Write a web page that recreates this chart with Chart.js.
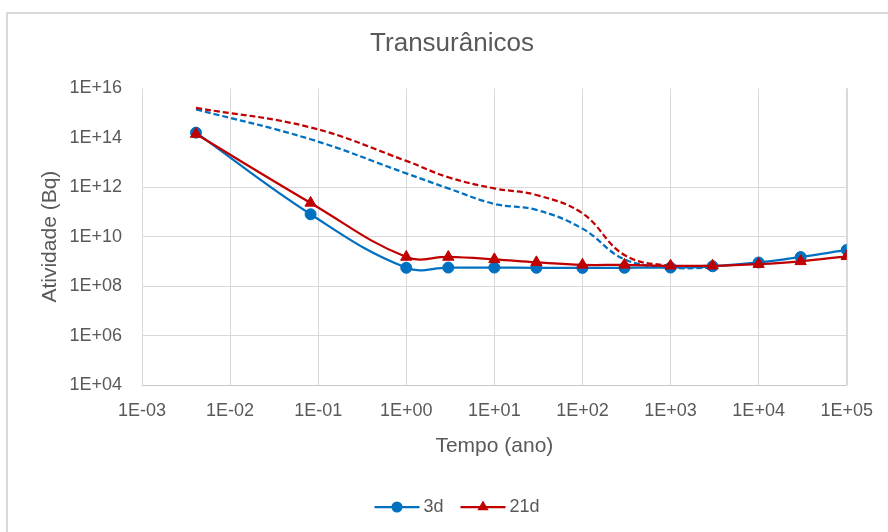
<!DOCTYPE html>
<html>
<head>
<meta charset="utf-8">
<script src="https://cdn.jsdelivr.net/npm/chart.js@4.4.1/dist/chart.umd.min.js"></script>
<style>
  html, body { margin: 0; padding: 0; background: #ffffff; }
  canvas { display: block; }
</style>
</head>
<body>
<canvas id="grafico" width="888" height="532"></canvas>
<script>
// Tempo de decaimento (anos)
const tempo = [0.0041, 0.082, 1, 3, 10, 30, 100, 300, 1000, 3000, 10000, 30000, 100000];

// Atividade dos transurânicos (Bq) - séries com marcadores
const atividade3d  = [1.6e14, 8.0e10, 5.5e8, 5.6e8, 5.6e8, 5.5e8, 5.4e8, 5.5e8, 5.6e8, 6.3e8, 9.0e8, 1.5e9, 2.9e9];
const atividade21d = [1.4e14, 2.3e11, 1.5e9, 1.5e9, 1.2e9, 9.1e8, 7.2e8, 7.2e8, 6.6e8, 6.6e8, 7.7e8, 1.0e9, 1.6e9];

// Curvas tracejadas (sem marcadores, fora da legenda)
const tempoTracejado = [0.0041, 0.082, 1, 3, 10, 30, 100, 300, 1000, 3000];
const tracejado3d  = [1.4e15, 8.6e13, 3.6e12, 8.9e11, 2.1e11, 1.2e11, 2.1e10, 1.2e9, 5.6e8, 5.5e8];
const tracejado21d = [1.6e15, 2.6e14, 1.15e13, 2.5e12, 8.9e11, 4.8e11, 8.7e10, 1.8e9, 6.6e8, 6.6e8];

// Marcas dos eixos
const xTicks = [1e-3, 1e-2, 1e-1, 1e0, 1e1, 1e2, 1e3, 1e4, 1e5];
const xTickLabels = ['1E-03', '1E-02', '1E-01', '1E+00', '1E+01', '1E+02', '1E+03', '1E+04', '1E+05'];
const yTicks = [1e4, 1e6, 1e8, 1e10, 1e12, 1e14, 1e16];
const yTickLabels = ['1E+04', '1E+06', '1E+08', '1E+10', '1E+12', '1E+14', '1E+16'];

const AZUL = '#0070C0';
const VERMELHO = '#C00000';
const CINZA_TEXTO = '#595959';
const CINZA_GRADE = '#d9d9d9';
const FONTE = "'Liberation Sans', Arial, sans-serif";

const pontos = (xs, ys) => xs.map((x, i) => ({ x: x, y: ys[i] }));

const itensLegenda = [
  { texto: '3d', cor: AZUL, estilo: 'circle' },
  { texto: '21d', cor: VERMELHO, estilo: 'triangle' }
];

function desenharMarcador(ctx, estilo, cor, x, y) {
  ctx.save();
  ctx.fillStyle = cor;
  ctx.strokeStyle = cor;
  ctx.beginPath();
  if (estilo === 'circle') {
    ctx.arc(x, y, 5.5, 0, Math.PI * 2);
  } else {
    const r = 6.5;
    ctx.moveTo(x, y - r);
    ctx.lineTo(x + r * Math.cos(Math.PI / 6), y + r / 2);
    ctx.lineTo(x - r * Math.cos(Math.PI / 6), y + r / 2);
    ctx.closePath();
  }
  ctx.fill();
  ctx.restore();
}

// Fundo branco e moldura da área do gráfico
const moldura = {
  id: 'moldura',
  beforeDraw(chart) {
    const ctx = chart.ctx;
    ctx.save();
    ctx.fillStyle = '#ffffff';
    ctx.fillRect(0, 0, chart.width, chart.height);
    ctx.strokeStyle = CINZA_GRADE;
    ctx.lineWidth = 2;
    ctx.strokeRect(7, 13, chart.width + 20, chart.height + 20);
    ctx.restore();
  }
};

// Legenda inferior com linha + marcador
const legendaLinha = {
  id: 'legendaLinha',
  afterDraw(chart) {
    const ctx = chart.ctx;
    ctx.save();
    ctx.font = '18px ' + FONTE;
    const larguraLinha = 45, folgaTexto = 4, folgaItens = 17;
    const larguras = itensLegenda.map(it => ctx.measureText(it.texto).width);
    let total = 0;
    larguras.forEach((w, i) => { total += larguraLinha + folgaTexto + w + (i > 0 ? folgaItens : 0); });
    let x = 457 - total / 2;
    const y = 507;
    itensLegenda.forEach((it, i) => {
      ctx.strokeStyle = it.cor;
      ctx.lineWidth = 2.25;
      ctx.beginPath();
      ctx.moveTo(x, y);
      ctx.lineTo(x + larguraLinha, y);
      ctx.stroke();
      desenharMarcador(ctx, it.estilo, it.cor, x + larguraLinha / 2, y);
      ctx.fillStyle = CINZA_TEXTO;
      ctx.textBaseline = 'middle';
      ctx.textAlign = 'left';
      ctx.fillText(it.texto, x + larguraLinha + folgaTexto, y);
      x += larguraLinha + folgaTexto + larguras[i] + folgaItens;
    });
    ctx.restore();
  }
};

new Chart(document.getElementById('grafico'), {
  type: 'line',
  data: {
    datasets: [
      {
        label: '3d',
        data: pontos(tempo, atividade3d),
        borderColor: AZUL,
        backgroundColor: AZUL,
        borderWidth: 2.25,
        pointStyle: 'circle',
        pointRadius: 5.5,
        pointBorderWidth: 1,
        tension: 0.4,
        order: 1
      },
      {
        label: '21d',
        data: pontos(tempo, atividade21d),
        borderColor: VERMELHO,
        backgroundColor: VERMELHO,
        borderWidth: 2.25,
        pointStyle: 'triangle',
        pointRadius: 6.5,
        pointBorderWidth: 1,
        tension: 0.4,
        order: 0
      },
      {
        label: '3d tracejado',
        data: pontos(tempoTracejado, tracejado3d),
        borderColor: AZUL,
        borderWidth: 2.25,
        borderDash: [6, 3],
        pointRadius: 0,
        tension: 0.4,
        order: 3
      },
      {
        label: '21d tracejado',
        data: pontos(tempoTracejado, tracejado21d),
        borderColor: VERMELHO,
        borderWidth: 2.25,
        borderDash: [6, 3],
        pointRadius: 0,
        tension: 0.4,
        order: 2
      }
    ]
  },
  options: {
    responsive: false,
    animation: false,
    devicePixelRatio: 1,
    layout: { padding: { left: 16, right: 0, top: 0, bottom: 40 } },
    plugins: {
      legend: { display: false },
      tooltip: { enabled: false },
      title: {
        display: true,
        text: 'Transurânicos',
        color: CINZA_TEXTO,
        font: { family: FONTE, size: 26, weight: 'normal' },
        padding: { top: 28, bottom: 29 }
      }
    },
    scales: {
      x: {
        type: 'logarithmic',
        min: 1e-3,
        max: 1e5,
        afterBuildTicks: s => { s.ticks = xTicks.map(v => ({ value: v })); },
        afterFit: s => { s.height = 107; },
        ticks: {
          autoSkip: false,
          maxRotation: 0,
          padding: 15,
          color: CINZA_TEXTO,
          font: { family: FONTE, size: 18 },
          callback: (v, i) => xTickLabels[i]
        },
        grid: {
          drawTicks: false,
          color: CINZA_GRADE,
          lineWidth: c => (c.tick && c.tick.value === 1e5 ? 2 : 1)
        },
        border: { display: true, color: '#c8c8c8', width: 1 },
        title: {
          display: true,
          text: 'Tempo (ano)',
          color: CINZA_TEXTO,
          font: { family: FONTE, size: 21 },
          padding: { top: 0, bottom: 33 }
        }
      },
      y: {
        type: 'logarithmic',
        min: 1e4,
        max: 1e16,
        afterBuildTicks: s => { s.ticks = yTicks.map(v => ({ value: v })); },
        afterFit: s => { s.width = 126; },
        ticks: {
          autoSkip: false,
          padding: 20,
          color: CINZA_TEXTO,
          font: { family: FONTE, size: 18 },
          callback: (v, i) => yTickLabels[i]
        },
        grid: {
          drawTicks: false,
          color: c => (c.tick && c.tick.value >= 1e14 ? 'rgba(0,0,0,0)' : CINZA_GRADE)
        },
        border: { display: false },
        title: {
          display: true,
          text: 'Atividade (Bq)',
          color: CINZA_TEXTO,
          font: { family: FONTE, size: 21 },
          padding: { top: 22, bottom: 0 }
        }
      },
      margemDireita: {
        type: 'linear',
        position: 'right',
        display: true,
        ticks: { display: false },
        grid: { display: false },
        border: { display: false },
        afterFit: s => { s.width = 39; }
      }
    }
  },
  plugins: [moldura, legendaLinha]
});
</script>
</body>
</html>
